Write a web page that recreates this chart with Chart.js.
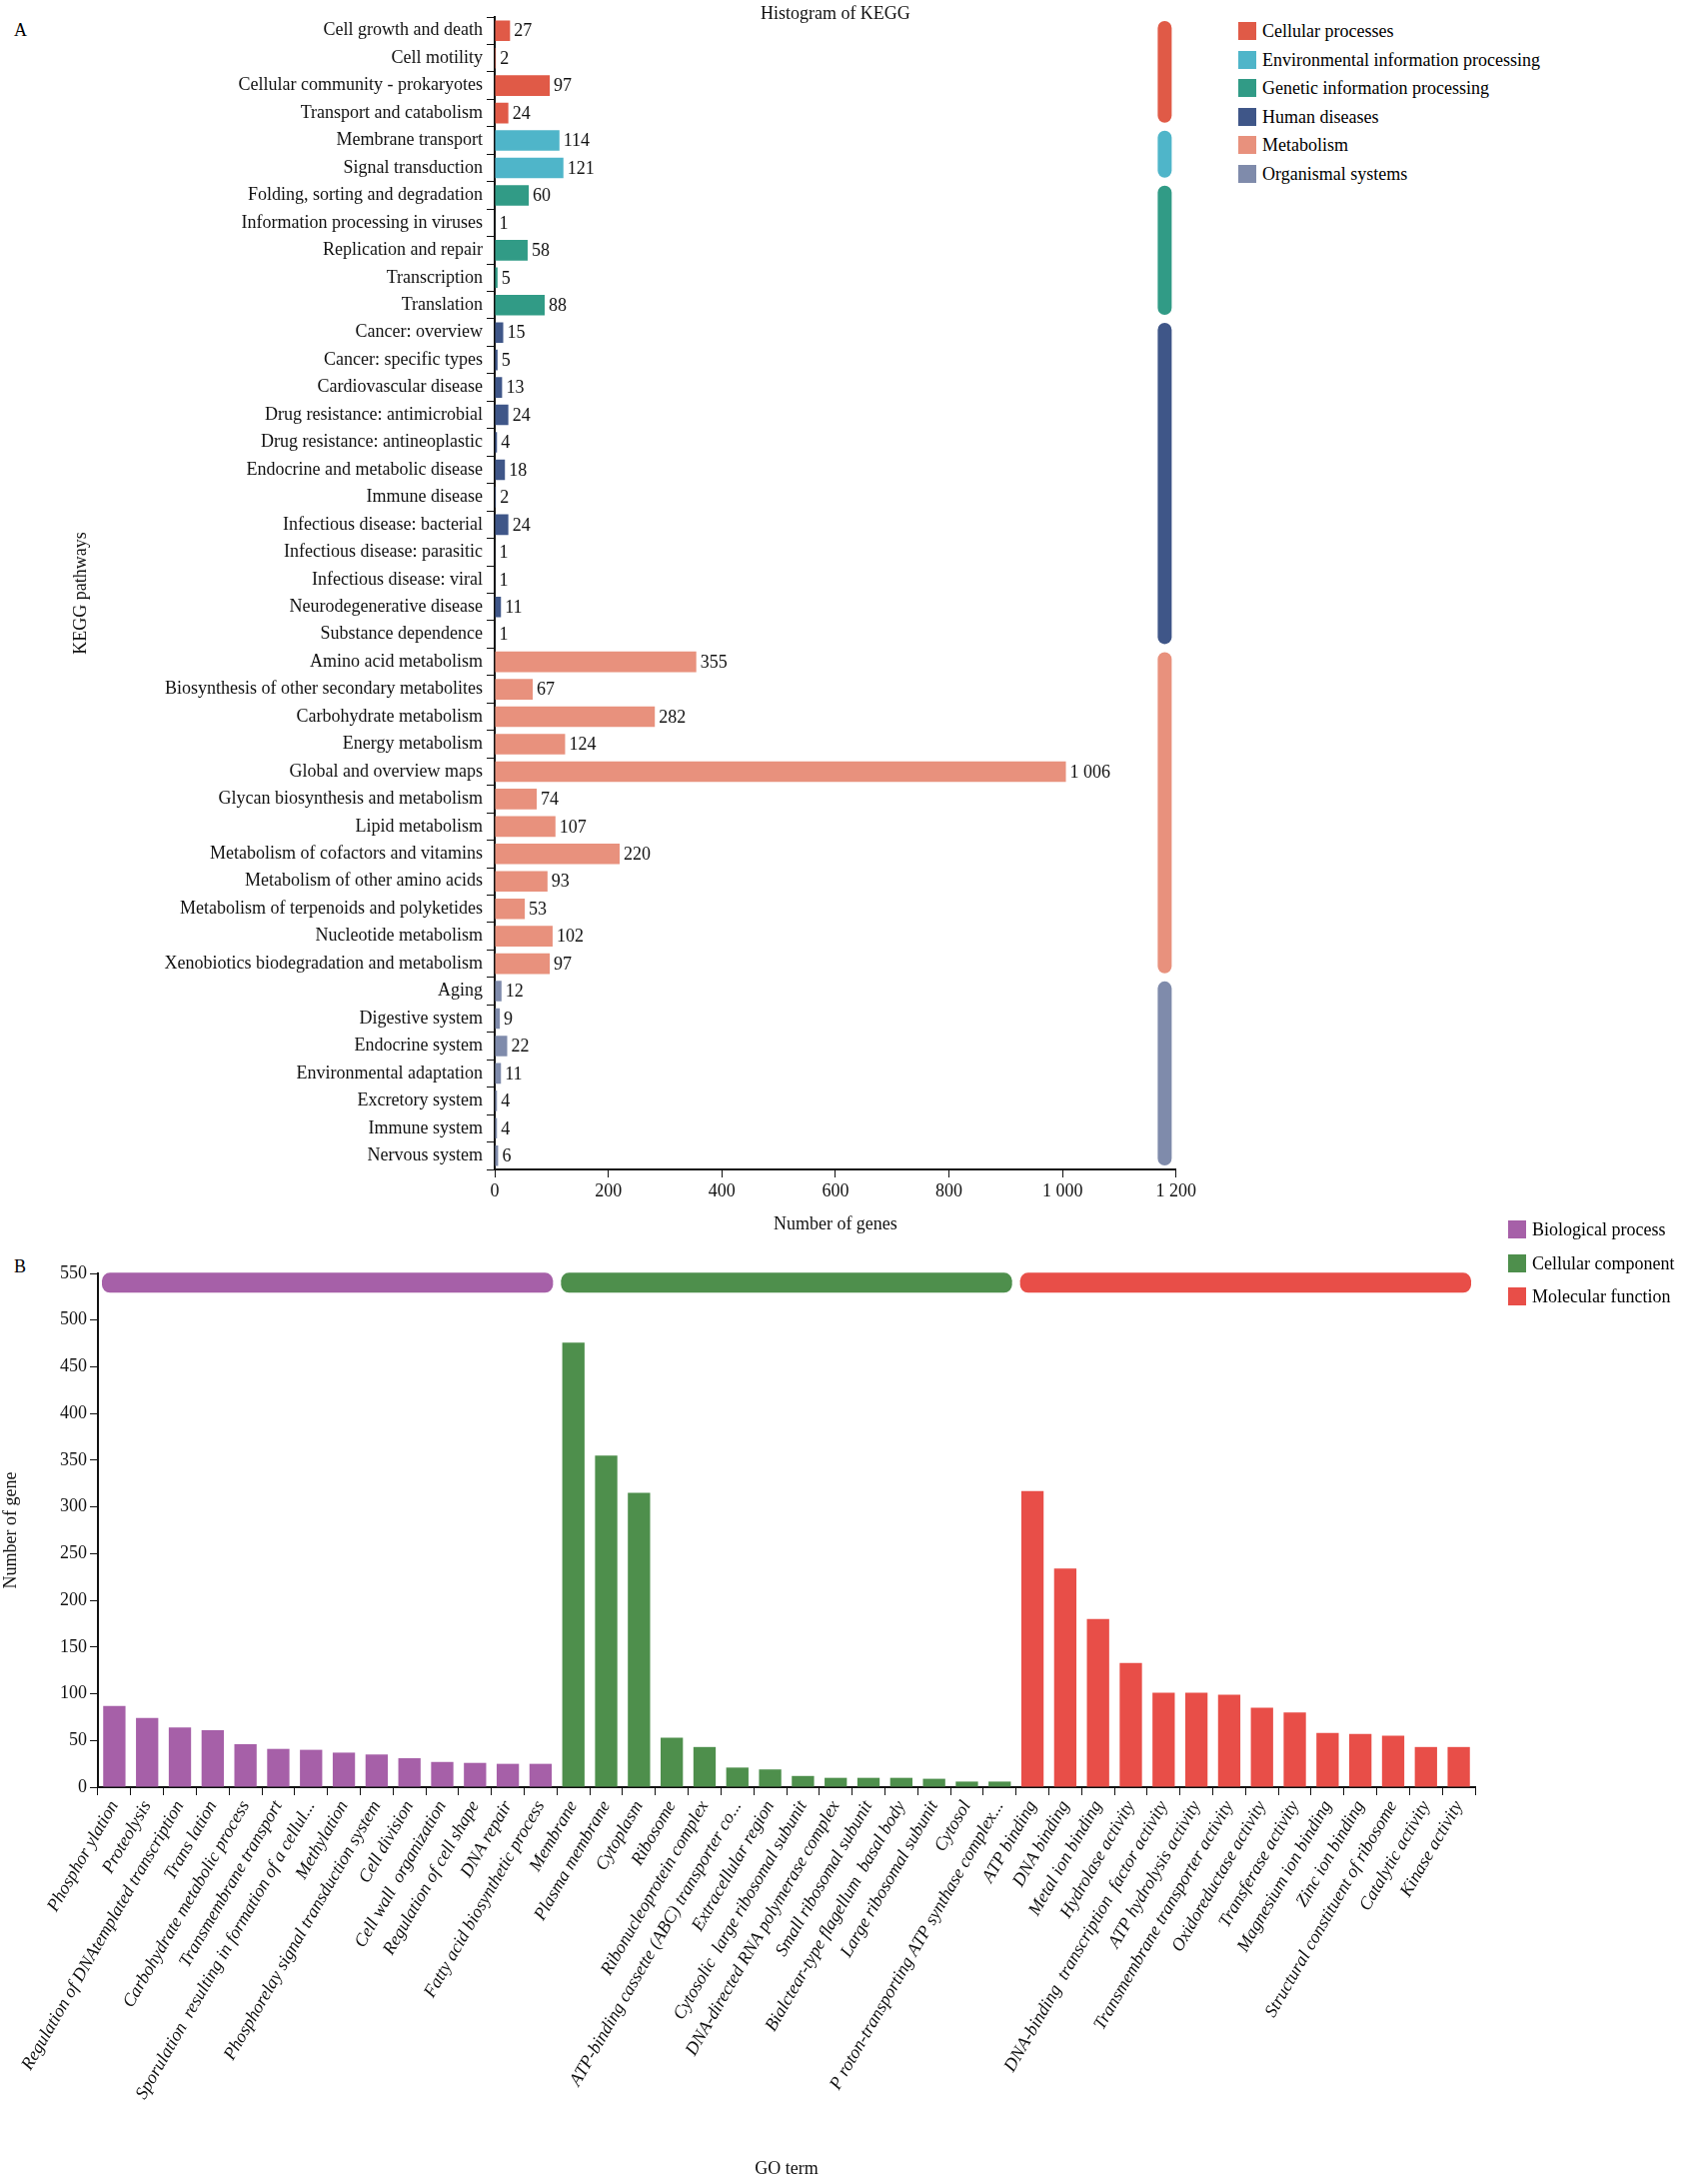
<!DOCTYPE html>
<html>
<head>
<meta charset="utf-8">
<script src="https://cdn.jsdelivr.net/npm/chart.js@4.4.1/dist/chart.umd.min.js"></script>
<style>
  body { margin: 0; background: #fff; font-family: "Liberation Serif", serif; }
  #wrap { position: relative; width: 1702px; height: 2185px; }
  .abs { position: absolute; }
  .legend div { font-size: 18px; height: 28.6px; line-height: 28px; white-space: nowrap; }
  .legend span { display: inline-block; width: 18px; height: 18px; vertical-align: -3px; margin-right: 6px; }
  .legendB div { height: 33.5px; line-height: 33px; }
</style>
</head>
<body>
<div id="wrap">
  <div class="abs" style="left:14px;top:20px;font-size:18px;">A</div>
  <div class="abs" style="left:14px;top:1257px;font-size:18px;">B</div>
  <div class="abs" style="left:0;top:0;width:1200px;height:1240px;"><canvas id="kegg"></canvas></div>
  <div class="abs" style="left:0;top:1200px;width:1702px;height:985px;"><canvas id="go"></canvas></div>
  <div class="abs legend" id="legA" style="left:1239px;top:17px;"></div>
  <div class="abs legend legendB" id="legB" style="left:1509px;top:1214px;"></div>
</div>
<script>
// KEGG data
var keggGroups = ['Cellular processes', 'Environmental information processing', 'Genetic information processing',
                  'Human diseases', 'Metabolism', 'Organismal systems'];
var keggColors = ['#e05a47', '#4fb5c9', '#319b86', '#3f5688', '#e8917d', '#7f8bab'];
var keggPathways = ['Cell growth and death', 'Cell motility', 'Cellular community - prokaryotes', 'Transport and catabolism',
  'Membrane transport', 'Signal transduction',
  'Folding, sorting and degradation', 'Information processing in viruses', 'Replication and repair', 'Transcription', 'Translation',
  'Cancer: overview', 'Cancer: specific types', 'Cardiovascular disease', 'Drug resistance: antimicrobial', 'Drug resistance: antineoplastic',
  'Endocrine and metabolic disease', 'Immune disease', 'Infectious disease: bacterial', 'Infectious disease: parasitic',
  'Infectious disease: viral', 'Neurodegenerative disease', 'Substance dependence',
  'Amino acid metabolism', 'Biosynthesis of other secondary metabolites', 'Carbohydrate metabolism', 'Energy metabolism',
  'Global and overview maps', 'Glycan biosynthesis and metabolism', 'Lipid metabolism', 'Metabolism of cofactors and vitamins',
  'Metabolism of other amino acids', 'Metabolism of terpenoids and polyketides', 'Nucleotide metabolism',
  'Xenobiotics biodegradation and metabolism',
  'Aging', 'Digestive system', 'Endocrine system', 'Environmental adaptation', 'Excretory system', 'Immune system', 'Nervous system'];
var keggGenes = [27, 2, 97, 24, 114, 121, 60, 1, 58, 5, 88, 15, 5, 13, 24, 4, 18, 2, 24, 1, 1, 11, 1,
  355, 67, 282, 124, 1006, 74, 107, 220, 93, 53, 102, 97, 12, 9, 22, 11, 4, 4, 6];
var keggGroupOf = [0,0,0,0, 1,1, 2,2,2,2,2, 3,3,3,3,3,3,3,3,3,3,3,3, 4,4,4,4,4,4,4,4,4,4,4,4, 5,5,5,5,5,5,5];
var keggTicks = [0, 200, 400, 600, 800, 1000, 1200];

// GO data
var goGroups = ['Biological process', 'Cellular component', 'Molecular function'];
var goColors = ['#a660a8', '#4e8f4c', '#e84e48'];
var goTerms = ['Phosphor ylation', 'Proteolysis', 'Regulation of DNAtemplated transcription', 'Trans lation',
  'Carbohydrate metabolic process', 'Transmembrane transport', 'Sporulation  resulting in formation of a cellul...',
  'Methylation', 'Phosphorelay signal transduction system', 'Cell division', 'Cell wall  organization',
  'Regulation of cell shape', 'DNA repair', 'Fatty acid biosynthetic process',
  'Membrane', 'Plasma membrane', 'Cytoplasm', 'Ribosome', 'Ribonucleoprotein complex', 'ATP-binding cassette (ABC) transporter co...',
  'Extracellular region', 'Cytosolic  large ribosomal subunit', 'DNA-directed RNA polymerase complex', 'Small ribosomal subunit',
  'Bialctear-type flagellum  basal body', 'Large ribosomal subunit', 'Cytosol', 'P roton-transporting ATP synthase complex...',
  'ATP binding', 'DNA binding', 'Metal ion binding', 'Hydrolase activity', 'DNA-binding  transcription  factor activity',
  'ATP hydrolysis activity', 'Transmembrane transporter activity', 'Oxidoreductase activity', 'Transferase activity',
  'Magnesium ion binding', 'Zinc ion binding', 'Structural constituent of ribosome', 'Catalytic activity', 'Kinase activity'];
var goGenes = [87, 74, 64, 61, 46, 41, 40, 37, 35, 31, 27, 26, 25, 25,
  476, 355, 315, 53, 43, 21, 19, 12, 10, 10, 10, 9, 6, 6,
  317, 234, 180, 133, 101, 101, 99, 85, 80, 58, 57, 55, 43, 43];
var goGroupOf = goTerms.map((t, i) => Math.floor(i / 14));

var serif = '"Liberation Serif", serif';
Chart.defaults.font.family = serif;
Chart.defaults.color = '#111';

function fmt(v) { return v >= 1000 ? Math.floor(v / 1000) + ' ' + String(v % 1000).padStart(3, '0') : String(v); }

function rrect(ctx, x, y, w, h, r) {
  ctx.beginPath();
  ctx.roundRect(x, y, w, h, r);
  ctx.fill();
}

// legends as html
document.getElementById('legA').innerHTML = keggGroups.map((g, i) =>
  '<div><span style="background:' + keggColors[i] + '"></span>' + g + '</div>').join('');
document.getElementById('legB').innerHTML = goGroups.map((g, i) =>
  '<div><span style="background:' + goColors[i] + '"></span>' + g + '</div>').join('');

// bar end labels and group bands for KEGG
var keggExtras = {
  id: 'keggExtras',
  afterDatasetsDraw(chart) {
    var ctx = chart.ctx, x = chart.scales.x, y = chart.scales.y;
    var meta = chart.getDatasetMeta(0);
    ctx.save();
    ctx.font = '18px ' + serif;
    ctx.fillStyle = '#111';
    ctx.textBaseline = 'middle';
    meta.data.forEach((bar, i) => ctx.fillText(fmt(keggGenes[i]), bar.x + 4, bar.y + 1));
    var half = (y.getPixelForValue(1) - y.getPixelForValue(0)) / 2;
    keggGroups.forEach((g, gi) => {
      var idx = keggGroupOf.map((v, i) => v === gi ? i : -1).filter(i => i >= 0);
      var top = y.getPixelForValue(idx[0]) - half + 4;
      var bot = y.getPixelForValue(idx[idx.length - 1]) + half - 4;
      ctx.fillStyle = keggColors[gi];
      rrect(ctx, x.getPixelForValue(1180) - 7, top, 14, bot - top, 7);
    });
    ctx.restore();
  }
};

new Chart(document.getElementById('kegg'), {
  type: 'bar',
  data: {
    labels: keggPathways,
    datasets: [{
      data: keggGenes,
      backgroundColor: keggGroupOf.map(g => keggColors[g]),
      barPercentage: 0.75,
      categoryPercentage: 1
    }]
  },
  options: {
    indexAxis: 'y',
    responsive: true,
    maintainAspectRatio: false,
    animation: false,
    layout: { padding: { left: 70, right: 21, top: 17 } },
    plugins: {
      legend: { display: false },
      tooltip: { enabled: false },
      title: { display: false }
    },
    scales: {
      x: {
        min: 0, max: 1200,
        afterBuildTicks: s => { s.ticks = keggTicks.map(v => ({ value: v })); },
        afterFit: s => { s.height = 70; },
        ticks: { font: { size: 18 }, callback: v => fmt(v), color: '#111', maxRotation: 0 },
        grid: { drawOnChartArea: false, tickLength: 8, color: '#111' },
        border: { color: '#111', width: 2 },
        title: { display: true, text: 'Number of genes', font: { size: 18 }, padding: { top: 4 } }
      },
      y: {
        afterFit: s => { s.width = 425; },
        ticks: { font: { size: 18 }, color: '#111', autoSkip: false, padding: 4 },
        grid: { drawOnChartArea: false, tickLength: 8, color: '#111' },
        border: { color: '#111', width: 2 },
        title: { display: true, text: 'KEGG pathways', font: { size: 18 }, padding: 0 }
      }
    }
  },
  plugins: [keggExtras, {
    id: 'keggTitle',
    afterDraw(chart) {
      var ctx = chart.ctx;
      ctx.save();
      ctx.font = '18px ' + serif;
      ctx.fillStyle = '#111';
      ctx.textAlign = 'center';
      ctx.textBaseline = 'middle';
      ctx.fillText('Histogram of KEGG', chart.scales.x.getPixelForValue(600), 14);
      ctx.restore();
    }
  }]
});

// group bands for GO
var goBands = {
  id: 'goBands',
  afterDatasetsDraw(chart) {
    var ctx = chart.ctx, x = chart.scales.x, y = chart.scales.y;
    var half = (x.getPixelForValue(1) - x.getPixelForValue(0)) / 2;
    ctx.save();
    goGroups.forEach((g, gi) => {
      var idx = goGroupOf.map((v, i) => v === gi ? i : -1).filter(i => i >= 0);
      var left = x.getPixelForValue(idx[0]) - half + 4;
      var right = x.getPixelForValue(idx[idx.length - 1]) + half - 4;
      var yc = y.getPixelForValue(540);
      ctx.fillStyle = goColors[gi];
      rrect(ctx, left, yc - 10, right - left, 20, 8);
    });
    ctx.restore();
  }
};

new Chart(document.getElementById('go'), {
  type: 'bar',
  data: {
    labels: goTerms,
    datasets: [{
      data: goGenes,
      backgroundColor: goGroupOf.map(g => goColors[g]),
      barPercentage: 0.68,
      categoryPercentage: 1
    }]
  },
  options: {
    responsive: true,
    maintainAspectRatio: false,
    animation: false,
    layout: { padding: { left: 0, right: 226, top: 74 } },
    plugins: { legend: { display: false }, tooltip: { enabled: false } },
    scales: {
      x: {
        afterFit: s => { s.height = 397; },
        ticks: { font: { size: 18, style: 'italic' }, color: '#111', autoSkip: false, minRotation: 60, maxRotation: 60, padding: 2 },
        grid: { drawOnChartArea: false, tickLength: 8, color: '#111' },
        border: { color: '#111', width: 2 },
        title: { display: true, text: 'GO term', font: { size: 18 }, padding: { top: 20 } }
      },
      y: {
        min: 0, max: 550,
        afterFit: s => { s.width = 98; },
        ticks: { stepSize: 50, font: { size: 18 }, color: '#111' },
        grid: { drawOnChartArea: false, tickLength: 8, color: '#111' },
        border: { color: '#111', width: 2 },
        title: { display: true, text: 'Number of gene', font: { size: 18 }, padding: 0 }
      }
    }
  },
  plugins: [goBands]
});
</script>
</body>
</html>
